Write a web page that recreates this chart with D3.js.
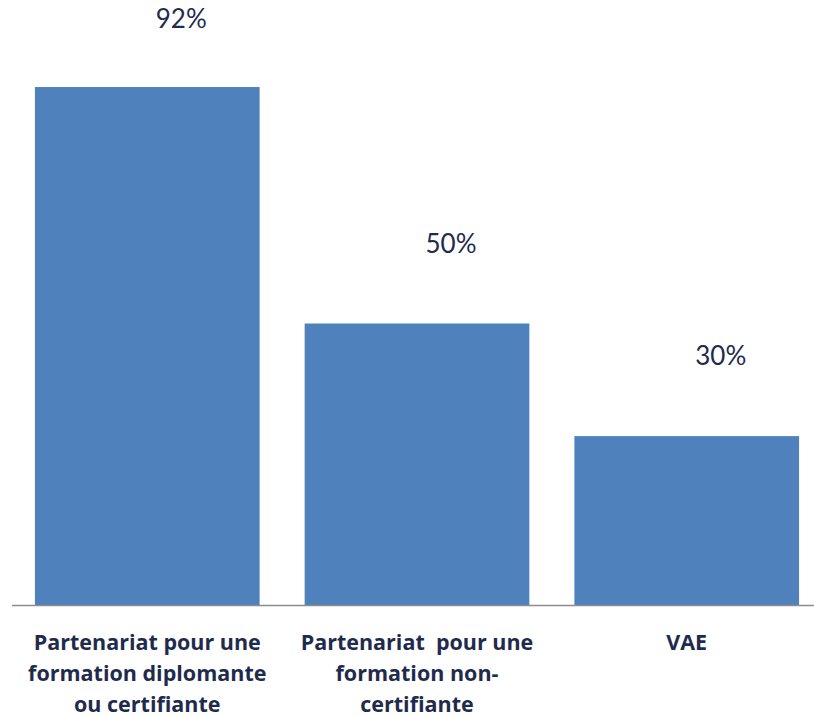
<!DOCTYPE html>
<html>
<head>
<meta charset="utf-8">
<script src="https://cdn.jsdelivr.net/npm/d3@7"></script>
<style>
  body { margin: 0; background: #fff; }
  svg { display: block; }
  text { font-family: Lato, "Open Sans", sans-serif; fill: #1f2b4d; }
  .cat { font-family: "Open Sans", sans-serif; }
</style>
</head>
<body>
<svg id="chart" width="814" height="717"></svg>
<script>
// data
var categories = ["cert", "noncert", "vae"];
var categoryLines = [
  ["Partenariat pour une", "formation diplomante", "ou certifiante"],
  ["Partenariat  pour une", "formation non-", "certifiante"],
  ["VAE"]
];
var values = [92, 50, 30];

var baseY = 605;
var svg = d3.select("#chart");

var x = d3.scaleBand()
  .domain(categories)
  .range([12, 822])
  .paddingInner(0.167)
  .paddingOuter(0.085);

var y = d3.scaleLinear()
  .domain([0, 100])
  .range([baseY, baseY - 563]);

svg.selectAll(".bar")
  .data(values)
  .enter()
  .append("rect")
  .attr("class", "bar")
  .attr("x", function(d, i) { return x(categories[i]); })
  .attr("width", x.bandwidth())
  .attr("y", function(d) { return y(d); })
  .attr("height", function(d) { return baseY - y(d); })
  .style("fill", "#4f81bd");

// baseline
svg.append("line")
  .attr("x1", 12)
  .attr("x2", 814)
  .attr("y1", baseY + 0.5)
  .attr("y2", baseY + 0.5)
  .style("stroke", "#8c8c8c")
  .style("stroke-width", 1.5);

// value labels (sit up and right of each bar, top one pinned inside the frame)
svg.selectAll(".val")
  .data(values)
  .enter()
  .append("text")
  .attr("class", "val")
  .attr("x", function(d, i) { return x(categories[i]) + x.bandwidth() / 2 + 34; })
  .attr("y", function(d) { return Math.max(y(d) - 71, 28); })
  .attr("text-anchor", "middle")
  .style("font-size", "26px")
  .text(function(d) { return d + "%"; });

// category labels
var cats = svg.selectAll(".cat")
  .data(categoryLines)
  .enter()
  .append("text")
  .attr("class", "cat")
  .attr("text-anchor", "middle")
  .style("font-size", "21.5px")
  .style("font-weight", "bold")
  .style("white-space", "pre");

cats.each(function(lines, i) {
  var t = d3.select(this);
  var cx = x(categories[i]) + x.bandwidth() / 2;
  lines.forEach(function(l, j) {
    t.append("tspan")
      .attr("x", cx)
      .attr("y", 650 + j * 31)
      .text(l);
  });
});
</script>
</body>
</html>
